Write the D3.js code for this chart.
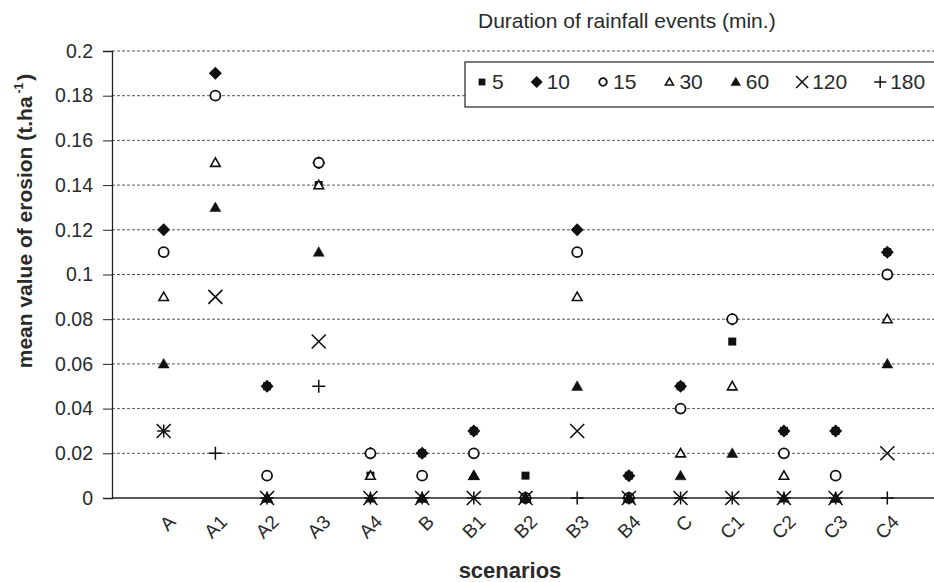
<!DOCTYPE html>
<html>
<head>
<meta charset="utf-8">
<script src="https://cdn.jsdelivr.net/npm/d3@7"></script>
<style>
body{margin:0;background:#fff;}
svg text{font-family:Arial,"Liberation Sans",sans-serif;fill:#2a2a2a;}
</style>
</head>
<body>
<svg id="chart" width="934" height="582"></svg>
<script>
// scenarios on the x axis
var scenarios = ["A","A1","A2","A3","A4","B","B1","B2","B3","B4","C","C1","C2","C3","C4"];
// durations of rainfall events (min.)
var durations = ["5","10","15","30","60","120","180"];
var yTicks = [0,0.02,0.04,0.06,0.08,0.1,0.12,0.14,0.16,0.18,0.2];

// mean erosion values (t.ha-1), one array per duration
var e5   = [null,null,0.05,0.14,0.01,0.02,0.03,0.01,null,0.01,0.05,0.07,0.03,0.03,0.11];
var e10  = [0.12,0.19,0.05,0.15,0.02,0.02,0.03,0,0.12,0.01,0.05,0.08,0.03,0.03,0.11];
var e15  = [0.11,0.18,0.01,0.15,0.02,0.01,0.02,0,0.11,0,0.04,0.08,0.02,0.01,0.10];
var e30  = [0.09,0.15,0,0.14,0.01,0,0.01,0,0.09,0,0.02,0.05,0.01,0,0.08];
var e60  = [0.06,0.13,0,0.11,0,0,0.01,0,0.05,0,0.01,0.02,0,0,0.06];
var e120 = [0.03,0.09,0,0.07,0,0,0,0,0.03,0,0,0,0,0,0.02];
var e180 = [0.03,0.02,0,0.05,0,0,0,0,0,0,0,0,0,0,0];

var series = [e5,e10,e15,e30,e60,e120,e180];

var svg = d3.select("#chart");

var xScale = d3.scaleLinear().domain([0,16]).range([112,939]);
var yScale = d3.scaleLinear().domain([0,0.2]).range([498,51]);

// marker shapes, drawn around 0,0
function markerPath(type,s){
	var p = d3.path();
	if(type=="square"){
		p.rect(-s,-s,2*s,2*s);
	} else if(type=="diamond"){
		p.moveTo(0,-s);p.lineTo(s,0);p.lineTo(0,s);p.lineTo(-s,0);p.closePath();
	} else if(type=="circle"){
		p.arc(0,0,s,0,2*Math.PI);
	} else if(type=="tri"){
		p.moveTo(0,-s);p.lineTo(s,s*0.75);p.lineTo(-s,s*0.75);p.closePath();
	} else if(type=="x"){
		p.moveTo(-s,-s);p.lineTo(s,s);p.moveTo(-s,s);p.lineTo(s,-s);
	} else if(type=="plus"){
		p.moveTo(-s,0);p.lineTo(s,0);p.moveTo(0,-s);p.lineTo(0,s);
	}
	return p.toString();
}

var styles = [
	{type:"square", size:4, lsize:3.4, fill:"#111", stroke:"none", sw:0},
	{type:"diamond", size:6.5, lsize:6, fill:"#111", stroke:"none", sw:0},
	{type:"circle", size:5, lsize:3.8, fill:"#fff", stroke:"#111", sw:1.8},
	{type:"tri", size:4.8, lsize:4, fill:"#fff", stroke:"#111", sw:1.6},
	{type:"tri", size:5.5, lsize:4.8, fill:"#111", stroke:"#111", sw:0.5},
	{type:"x", size:7, lsize:6, fill:"none", stroke:"#111", sw:1.6},
	{type:"plus", size:6.5, lsize:6, fill:"none", stroke:"#111", sw:1.5}
];

// grid lines
svg.append("g")
	.selectAll("line")
	.data(yTicks.slice(1))
	.enter()
	.append("line")
	.attr("x1",112)
	.attr("x2",934)
	.attr("y1",function(d){return yScale(d);})
	.attr("y2",function(d){return yScale(d);})
	.attr("stroke","#555")
	.attr("stroke-width",1)
	.attr("stroke-dasharray","3,2");

// y axis
var yAxis = d3.axisLeft(yScale)
	.tickValues(yTicks)
	.tickSize(9)
	.tickPadding(10)
	.tickFormat(d3.format("~f"));

var yG = svg.append("g")
	.attr("transform","translate(112,0)")
	.call(yAxis);
yG.select(".domain").attr("stroke","#222").attr("stroke-width",1.3);
yG.selectAll(".tick line").attr("stroke","#222");
yG.selectAll("text").attr("font-size","19.5px").attr("fill","#2a2a2a");

// x axis line
svg.append("line")
	.attr("x1",112).attr("x2",934)
	.attr("y1",yScale(0)).attr("y2",yScale(0))
	.attr("stroke","#222").attr("stroke-width",1.3);

// category labels
svg.append("g")
	.selectAll("text")
	.data(scenarios)
	.enter()
	.append("text")
	.attr("transform",function(d,i){return "translate("+(xScale(i+1)+13)+",523) rotate(-45)";})
	.attr("text-anchor","end")
	.attr("font-size","19px")
	.text(function(d){return d;});

// points
series.forEach(function(vals,k){
	var st = styles[k];
	svg.append("g")
		.selectAll("path")
		.data(vals.map(function(v,i){return {i:i,v:v};}).filter(function(d){return d.v!=null;}))
		.enter()
		.append("path")
		.attr("transform",function(d){return "translate("+xScale(d.i+1)+","+yScale(d.v)+")";})
		.attr("d",markerPath(st.type,st.size))
		.attr("fill",st.fill)
		.attr("stroke",st.stroke)
		.attr("stroke-width",st.sw);
});

// legend
svg.append("rect")
	.attr("x",465).attr("y",62)
	.attr("width",480).attr("height",45)
	.attr("fill","#fff")
	.attr("stroke","#333")
	.attr("stroke-width",1.3);

var lx = 482;
durations.forEach(function(name,k){
	var st = styles[k];
	svg.append("path")
		.attr("transform","translate("+lx+",82)")
		.attr("d",markerPath(st.type,st.lsize))
		.attr("fill",st.fill)
		.attr("stroke",st.stroke)
		.attr("stroke-width",st.sw);
	var t = svg.append("text")
		.attr("x",lx+10)
		.attr("y",89)
		.attr("font-size","21px")
		.text(name);
	lx = lx + 43 + t.node().getComputedTextLength();
});

// titles
svg.append("text")
	.attr("x",478).attr("y",28)
	.attr("font-size","21px")
	.text("Duration of rainfall events (min.)");

svg.append("text")
	.attr("x",510).attr("y",578)
	.attr("text-anchor","middle")
	.attr("font-size","22px")
	.attr("font-weight","bold")
	.text("scenarios");

var yl = svg.append("text")
	.attr("transform","translate(32,221) rotate(-90)")
	.attr("text-anchor","middle")
	.attr("font-size","21px")
	.attr("font-weight","bold");
yl.append("tspan").text("mean value of erosion (t.ha");
yl.append("tspan").attr("font-size","12px").attr("dy","-9").attr("dx","3").text("-1");
yl.append("tspan").attr("dy","9").attr("dx","2").text(")");
</script>
</body>
</html>
